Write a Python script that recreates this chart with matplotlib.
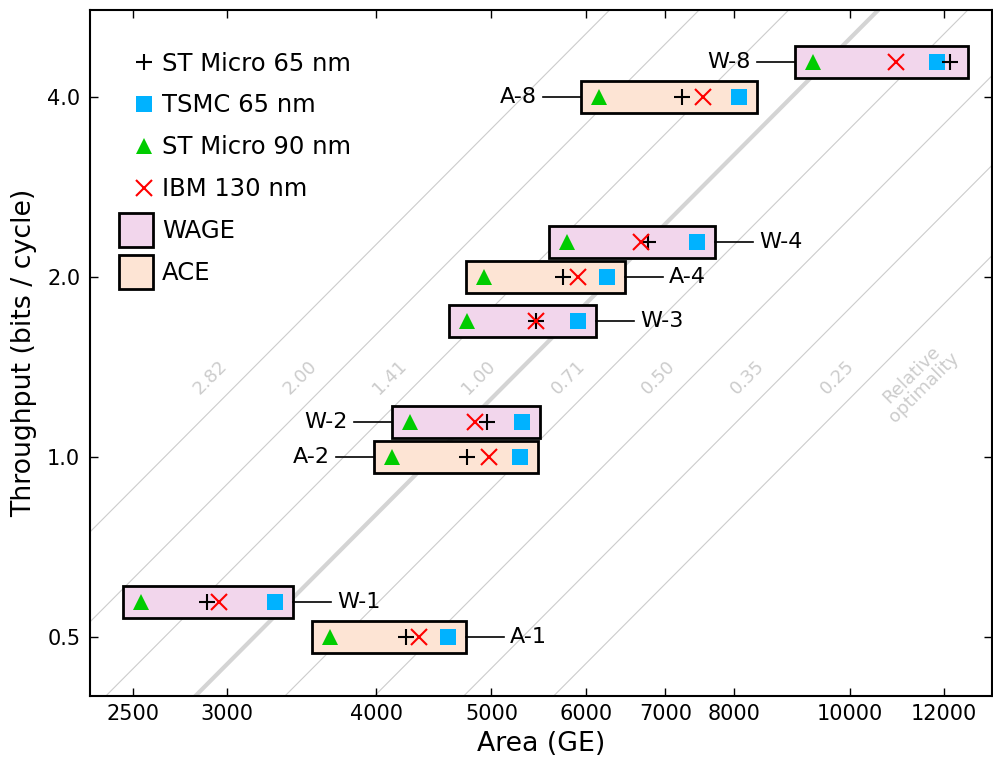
import numpy as np
import matplotlib
matplotlib.use('Agg')
import matplotlib.pyplot as plt
import matplotlib.patches as mpatches
from matplotlib.lines import Line2D
from matplotlib.legend_handler import HandlerPatch

# designs, throughput (bits/cycle) and area (GE) per library
designs = ['A-1', 'W-1', 'A-2', 'W-2', 'W-3', 'A-4', 'W-4', 'A-8', 'W-8']
throughput = [0.5, 0.571, 1.0, 1.143, 1.69, 2.0, 2.286, 4.0, 4.571]
st65 = [4238, 2885, 4772, 4957, 5451, 5743, 6771, 7230, 12141]
tsmc65 = [4597, 3290, 5284, 5305, 5913, 6254, 7443, 8071, 11837]
st90 = [3659, 2539, 4125, 4272, 4770, 4929, 5787, 6158, 9316]
ibm130 = [4348, 2953, 4978, 4845, 5451, 5913, 6680, 7530, 10935]
label_side = ['right', 'right', 'left', 'left', 'right', 'right', 'right', 'left', 'left']

# relative optimality guide lines: T = opt * (A / A0)^2
opt_values = [2.828, 2.0, 1.414, 1.0, 0.707, 0.5, 0.354, 0.25]
opt_labels = ['2.82', '2.00', '1.41', '1.00', '0.71', '0.50', '0.35', '0.25']
A0 = 4470.0

x_ticks = [2500, 3000, 4000, 5000, 6000, 7000, 8000, 10000, 12000]
y_ticks = [0.5, 1.0, 2.0, 4.0]

WAGE_COLOR = '#f2d6ec'
ACE_COLOR = '#fde4d4'
GUIDE = '#cccccc'

fig = plt.figure(figsize=(9.93, 7.62), dpi=100)
ax = fig.add_axes([90 / 993, 66 / 762, 902 / 993, 686 / 762])
ax.set_xscale('log')
ax.set_yscale('log', base=2)
ax.set_xlim(2300, 13170)
ax.set_ylim(0.398, 5.59)

# guide lines
a_ends = np.array([1500.0, 20000.0])
for opt, lab in zip(opt_values, opt_labels):
    lw = 3 if lab == '1.00' else 0.8
    ax.plot(a_ends, opt * (a_ends / A0) ** 2, color=GUIDE if lab != '1.00' else '#d4d4d4',
            lw=lw, zorder=1)
    t_lab = 1.36
    a_lab = A0 * np.sqrt(t_lab / opt) / 1.068
    ax.text(a_lab, t_lab, lab, rotation=45, ha='center', va='center',
            color=GUIDE, fontsize=13, rotation_mode='anchor', zorder=1)
ax.text(11400, 1.34, 'Relative\noptimality', rotation=45, ha='center', va='center',
        multialignment='center', color=GUIDE, fontsize=13, rotation_mode='anchor',
        linespacing=1.0, zorder=1)

# design boxes
pad = 1.0354
hf = 1.0635
for i, name in enumerate(designs):
    vals = [st65[i], tsmc65[i], st90[i], ibm130[i]]
    lo = min(vals) / pad
    hi = max(vals) * pad
    t = throughput[i]
    color = WAGE_COLOR if name.startswith('W') else ACE_COLOR
    rect = mpatches.Rectangle((lo, t / hf), hi - lo, t * hf - t / hf,
                              facecolor=color, edgecolor='black', lw=2, zorder=3)
    ax.add_patch(rect)
    if label_side[i] == 'right':
        x_end = hi * 1.076
        ax.plot([hi, x_end], [t, t], color='black', lw=1.2, zorder=3)
        ax.text(x_end * 1.012, t, name, ha='left', va='center', fontsize=16)
    else:
        x_end = lo / 1.076
        ax.plot([x_end, lo], [t, t], color='black', lw=1.2, zorder=3)
        ax.text(x_end / 1.012, t, name, ha='right', va='center', fontsize=16)

ms = 11.5
ax.plot(st65, throughput, ls='none', marker='+', ms=ms, mew=1.5, color='black', zorder=5)
ax.plot(tsmc65, throughput, ls='none', marker='s', ms=ms, mew=0, color='#00b2ff', zorder=4)
ax.plot(st90, throughput, ls='none', marker='^', ms=ms, mew=0, color='#00cc00', zorder=4)
ax.plot(ibm130, throughput, ls='none', marker='x', ms=ms, mew=1.5, color='red', zorder=5)

ax.set_xticks(x_ticks)
ax.set_xticklabels([str(v) for v in x_ticks])
ax.set_yticks(y_ticks)
ax.set_yticklabels(['0.5', '1.0', '2.0', '4.0'])
ax.minorticks_off()
ax.tick_params(direction='in', length=6, width=1, top=True, right=True, labelsize=15)
ax.tick_params(axis='x', pad=6)
ax.tick_params(axis='y', pad=7)
for sp in ax.spines.values():
    sp.set_linewidth(1.5)
ax.set_xlabel('Area (GE)', fontsize=19.3, labelpad=5)
ax.set_ylabel('Throughput (bits / cycle)', fontsize=19.3, labelpad=7)


def big_box(legend, orig_handle, xdescent, ydescent, width, height, fontsize):
    s = 24.5
    return mpatches.Rectangle((-xdescent + width - s, -ydescent + height / 2 - s / 2), s, s)


handles = [
    Line2D([], [], ls='none', marker='+', ms=ms, mew=1.5, color='black'),
    Line2D([], [], ls='none', marker='s', ms=ms, mew=0, color='#00b2ff'),
    Line2D([], [], ls='none', marker='^', ms=ms, mew=0, color='#00cc00'),
    Line2D([], [], ls='none', marker='x', ms=ms, mew=1.5, color='red'),
    mpatches.Patch(facecolor=WAGE_COLOR, edgecolor='black', lw=2),
    mpatches.Patch(facecolor=ACE_COLOR, edgecolor='black', lw=2),
]
labels = ['ST Micro 65 nm', 'TSMC 65 nm', 'ST Micro 90 nm', 'IBM 130 nm', 'WAGE', 'ACE']
ax.legend(handles, labels, loc='upper left', bbox_to_anchor=(0.0496, 0.9395),
          frameon=False, fontsize=17.5, numpoints=1, handlelength=0.77,
          handletextpad=0.34, labelspacing=0.74, borderpad=0, borderaxespad=0,
          handler_map={mpatches.Patch: HandlerPatch(patch_func=big_box)})

fig.savefig('out.png', dpi=100)
